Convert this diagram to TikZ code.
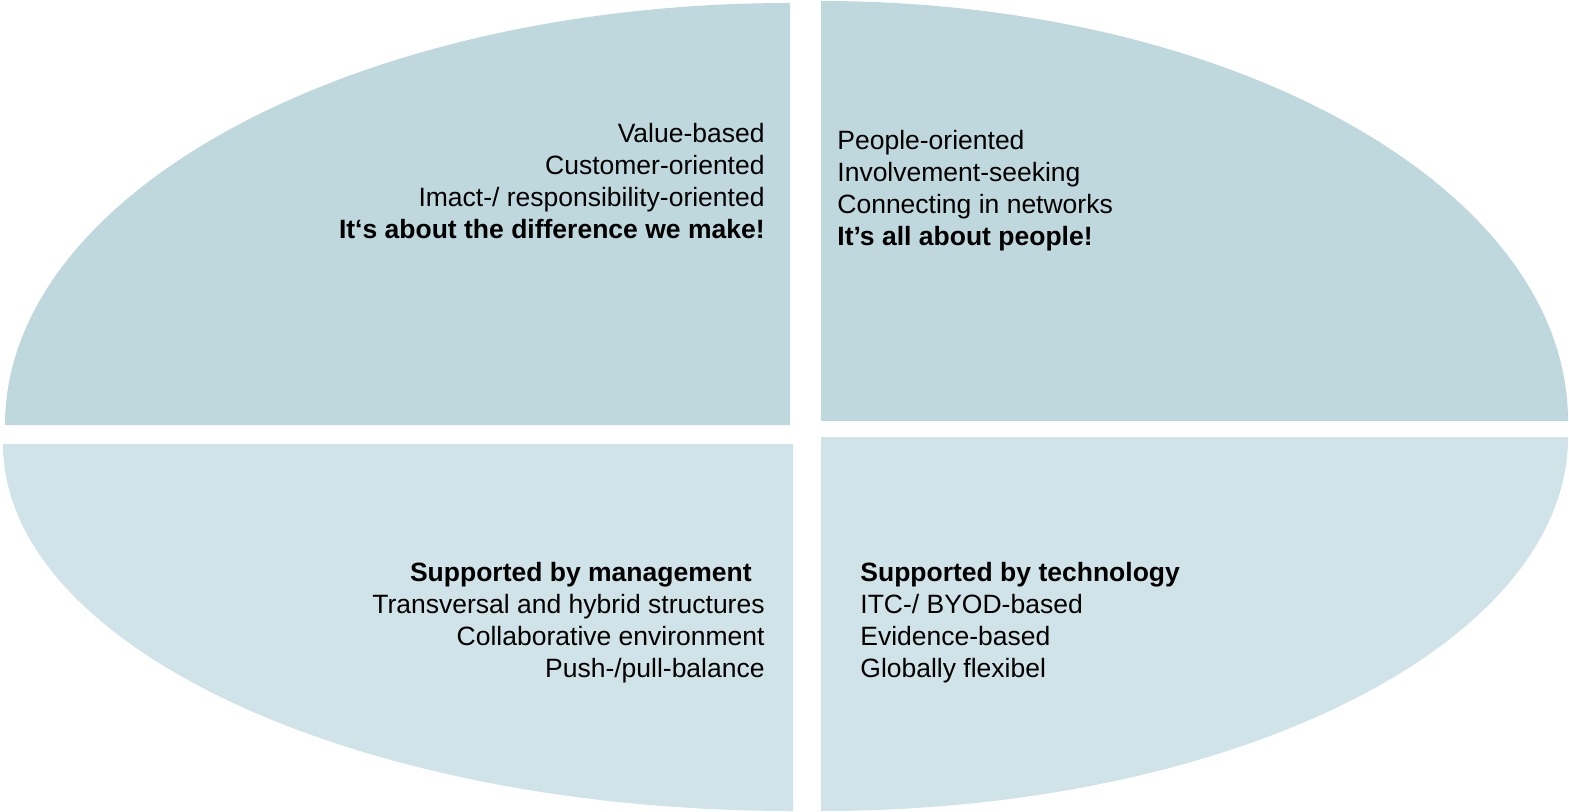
\documentclass[tikz,border=0pt]{standalone}
\usepackage{fontspec}
\setmainfont{Liberation Sans}
\definecolor{quadtop}{RGB}{191,216,221}
\definecolor{quadbottom}{RGB}{208,227,232}
\begin{document}
\begin{tikzpicture}[x=0.5pt, y=0.5pt,
    quadtext/.style={inner sep=0pt, font=\fontsize{13.25}{16}\selectfont},
    lefttext/.style={quadtext, align=right, anchor=north east},
    righttext/.style={quadtext, align=left, anchor=north west}]
    % Frame
    \useasboundingbox (0,0) rectangle (1569,811);

    % Upper quarters
    \fill[quadtop] (790,386) -- (5,386) arc[start angle=180, end angle=90, x radius=785, y radius=422] -- cycle;
    \fill[quadtop] (821,390) -- (821,810) arc[start angle=90, end angle=0, x radius=747, y radius=420] -- cycle;

    % Lower quarters
    \fill[quadbottom] (793,367) -- (3,367) arc[start angle=180, end angle=270, x radius=790, y radius=367] -- cycle;
    \fill[quadbottom] (821,374) -- (1568,374) arc[start angle=0, end angle=-90, x radius=747, y radius=374] -- cycle;

    % Texts
    \node[lefttext] (value) at (765,688) {Value-based\\Customer-oriented\\Imact-/ responsibility-oriented\\\textbf{It‘s about the difference we make!}};
    \node[righttext] (people) at (837,681) {People-oriented\\Involvement-seeking\\Connecting in networks\\\textbf{It’s all about people!}};
    \node[lefttext] (management) at (765,249) {\textbf{Supported by management}\hbox to 6.5pt{}\\Transversal and hybrid structures\\Collaborative environment\\Push-/pull-balance};
    \node[righttext] (technology) at (860,249) {\textbf{Supported by technology}\\ITC-/ BYOD-based\\Evidence-based\\Globally flexibel};
\end{tikzpicture}
\end{document}
